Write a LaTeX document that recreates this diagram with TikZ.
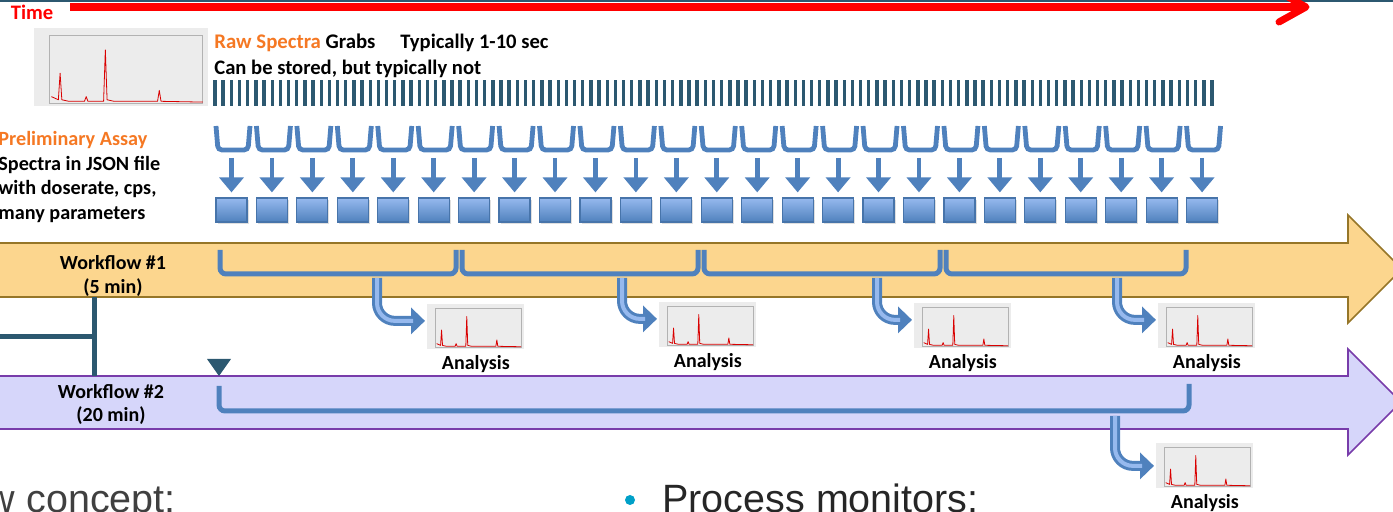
\documentclass[tikz,border=0pt]{standalone}
\usepackage{fontspec}
\setmainfont{Carlito}
\setsansfont{Liberation Sans}
\usetikzlibrary{arrows.meta,positioning,shadows}

\definecolor{barteal}{RGB}{44,88,112}
\definecolor{offblue}{RGB}{79,129,189}
\definecolor{liteblue}{RGB}{150,185,238}
\definecolor{wfone}{RGB}{252,214,142}
\definecolor{wfoneline}{RGB}{150,118,40}
\definecolor{wftwo}{RGB}{214,214,250}
\definecolor{wftwoline}{RGB}{120,60,170}
\definecolor{assay}{RGB}{245,120,35}
\definecolor{bullet}{RGB}{0,160,200}

\tikzset{
  spec/.pic={
    \draw[gray!60, line width=0.3pt] (9,5) rectangle (97,48);
    \draw[red!85!black, line width=0.4pt, line join=round] (10,44) -- (14,46) -- (15,29) -- (16,46) -- (20,47) -- (29,47) -- (30,44) -- (31,47) -- (40,47) -- (41,14) -- (42,46) -- (46,47) -- (71,47) -- (72,40) -- (73,47) -- (97,47.5);
  }
}

\begin{document}
\begin{tikzpicture}[x=0.5pt, y=-0.5pt,
  lbl/.style={font=\fontsize{10}{12}\selectfont\bfseries, inner sep=0pt},
  sq/.style={minimum width=15.5pt, minimum height=12pt, inner sep=0pt, draw=offblue!90!black, line width=0.6pt, top color=liteblue, bottom color=offblue, drop shadow={opacity=0.25, shadow xshift=0.8pt, shadow yshift=-1.2pt}},
  ush/.style={draw=offblue, line width=2.4pt, rounded corners=2pt},
  dn/.style={draw=offblue, line width=2.4pt, -{Triangle[length=7.5pt,width=12pt]}, shorten >=2.5pt},
  brk/.style={draw=offblue, line width=2.5pt, rounded corners=3pt},
  bentarr/.style={draw=offblue, line width=5pt, rounded corners=9pt, -{Triangle[length=7pt,width=13pt]}, shorten >=1pt,
    postaction={draw=liteblue, line width=2pt, shorten >=7pt, -}},
  thumb/.style={fill=gray!15, inner sep=0pt, minimum width=48.5pt, minimum height=22.5pt, anchor=north west},
  tline/.style={draw=barteal, line width=2.5pt}]

  \useasboundingbox (0,0) rectangle (1393,512);
  \clip (0,0) rectangle (1393,512);

  % time line
  \fill[barteal] (0,0) rectangle (1393,2);
  \node[lbl, text=red, font=\fontsize{10.3}{12}\selectfont\bfseries] (time) at (32,12) {Time};
  \coordinate (tstart) at (70,7);
  \coordinate (tend) at (1306,7);
  \draw[red, line width=4pt] (tstart) -- (tend);
  \draw[red, line width=3.5pt, line cap=round, line join=round] (1279,22) -- (tend) -- (1279,-8);

  % raw spectra
  \node[thumb, minimum width=87pt, minimum height=39pt] (raw) at (34,28) {};
  \pic[xscale=1.74, yscale=1.56] at (raw.north west) {spec};
  \node[lbl, anchor=base west, font=\fontsize{10.4}{12}\selectfont\bfseries] (grabs) at (214,49) {\textcolor{assay}{Raw Spectra} Grabs};
  \node[lbl, anchor=base west, font=\fontsize{10.3}{12}\selectfont\bfseries] (typ) at (400,49) {Typically 1-10 sec};
  \node[lbl, anchor=base west, font=\fontsize{10.3}{12}\selectfont\bfseries] (store) at (214,75) {Can be stored, but typically not};
  \foreach \i in {0,...,122}
    \fill[barteal] ({215+\i*8.172-1.7},80) rectangle +(3.4,26);

  % preliminary assay
  \node[lbl, anchor=north west, align=left, font=\fontsize{10.1}{12.35}\selectfont\bfseries] (assay) at (-2,131)
    {\textcolor{assay}{Preliminary Assay}\\Spectra in JSON file\\with doserate, cps,\\many parameters};
  \foreach \i in {0,...,24} {
    \node[sq] (sq\i) at ({231.5+\i*40.44},210) {};
    \draw[ush] ({233+\i*40.44-17},126) -- ({233+\i*40.44-15},150) -- ({233+\i*40.44+15},150) -- ({233+\i*40.44+17},126);
    \coordinate (u\i) at ({231.5+\i*40.44},158);
    \draw[dn] (u\i) -- (sq\i.north);
  }

  % workflow 1
  \draw[fill=wfone, draw=wfoneline, line width=0.8pt] (-10,243) -- (1348,243) -- (1348,215) -- (1402,269) -- (1348,323) -- (1348,297) -- (-10,297) -- cycle;
  \node[lbl, anchor=north, align=center] (wf1) at (113,255) {Workflow \#1\\(5 min)};
  \draw[brk] (220,250) -- (220,274) -- (456,274) -- (456,250);
  \draw[brk] (462,250) -- (462,274) -- (698,274) -- (698,250);
  \draw[brk] (704,250) -- (704,274) -- (940,274) -- (940,250);
  \draw[brk] (946,250) -- (946,274) -- (1186,274) -- (1186,250);

  % workflow 2
  \draw[fill=wftwo, draw=wftwoline, line width=0.8pt] (-10,376) -- (1348,376) -- (1348,349) -- (1401,402) -- (1348,455) -- (1348,429) -- (-10,429) -- cycle;
  \node[lbl, anchor=north, align=center, font=\fontsize{10}{11.75}\selectfont\bfseries] (wf2) at (111,384) {Workflow \#2\\(20 min)};
  \draw[brk] (219,386) -- (219,411) -- (1189,411) -- (1189,384);
  \fill[barteal] (207,359) -- (231,359) -- (219,376) -- cycle;

  % connectors
  \coordinate (j1) at (94,297);
  \coordinate (j2) at (94,376);
  \coordinate (j3) at (94,337);
  \coordinate (j0) at (-5,337);
  \draw[tline] (j1) -- (j2);
  \draw[tline] (j0) -- (j3);

  % analysis thumbnails
  \node[thumb] (an1) at (427,304) {};
  \node[thumb] (an2) at (659,302) {};
  \node[thumb] (an3) at (914,303) {};
  \node[thumb] (an4) at (1158,303) {};
  \node[thumb] (an5) at (1156,443) {};
  \foreach \n in {an1,an2,an3,an4,an5} {
    \pic[xscale=0.97, yscale=0.9] at (\n.north west) {spec};
    \node[lbl, below=2.5pt of \n] (\n l) {Analysis};
  }

  \coordinate (g1) at (377,278);
  \coordinate (g2) at (622,278);
  \coordinate (g3) at (877,278);
  \coordinate (g4) at (1117,278);
  \coordinate (g5) at (1115,416);
  \draw[bentarr] (g1) |- ([yshift=3pt]an1.west);
  \draw[bentarr] (g2) |- ([yshift=3pt]an2.west);
  \draw[bentarr] (g3) |- ([yshift=3pt]an3.west);
  \draw[bentarr] (g4) |- ([yshift=3pt]an4.west);
  \draw[bentarr] (g5) |- ([yshift=0pt]an5.west);

  % slide text
  \node[font=\sffamily\fontsize{19.75}{22}\selectfont, text=black!75, anchor=base west, inner sep=0pt] (concept) at (-13.5,513) {w concept:};
  \fill[bullet] (630,500) circle (5);
  \node[font=\sffamily\fontsize{19.75}{22}\selectfont, text=black!85, anchor=base west, inner sep=0pt] (monitors) at (662,513) {Process monitors:};
\end{tikzpicture}
\end{document}
